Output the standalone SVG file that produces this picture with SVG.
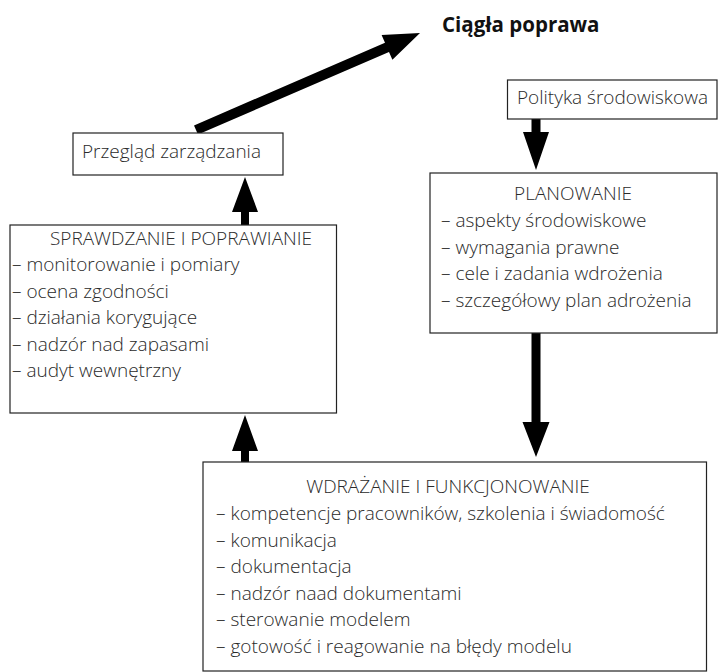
<svg xmlns="http://www.w3.org/2000/svg" width="724" height="672" viewBox="0 0 724 672">
  <style>
    .box { fill: #fff; stroke: #222; stroke-width: 1.2; }
    .t { font-family: "Open Sans", "Liberation Sans", sans-serif; font-weight: 300; font-size: 19px; fill: #2a2a2a; }
    .mid { text-anchor: middle; }
    .title { font-family: "Open Sans", "Liberation Sans", sans-serif; font-weight: 700; font-size: 20.5px; fill: #111; }
    .arrow { fill: #000; stroke: none; }
  </style>
  <rect width="724" height="672" fill="#fff"/>

  <g id="connectors">
    <!-- Przegląd zarządzania -> Ciągła poprawa -->
    <polygon class="arrow" points="194,125.4 385,42.7 381.6,34.9 420,33 392.4,59.7 389,51.9 198,134.6"/>
    <!-- Polityka -> Planowanie -->
    <polygon class="arrow" points="531.5,119 540.5,119 540.5,132 549,132 536,170 523,132 531.5,132"/>
    <!-- Planowanie -> Wdrażanie -->
    <polygon class="arrow" points="531.5,333 540.5,333 540.5,422 549.5,422 536,457 522.5,422 531.5,422"/>
    <!-- Sprawdzanie -> Przegląd -->
    <polygon class="arrow" points="241,225 249,225 249,212 258,212 245,177 232,212 241,212"/>
    <!-- Wdrażanie -> Sprawdzanie -->
    <polygon class="arrow" points="241,462 249,462 249,451 258,451 245,415 232,451 241,451"/>
  </g>

  <g id="ciagla-poprawa">
    <text class="title" x="442" y="32">Ciągła poprawa</text>
  </g>

  <g id="przeglad">
    <rect class="box" x="73" y="133" width="210" height="42"/>
    <text class="t" x="82" y="158" font-size="18.5">Przegląd zarządzania</text>
  </g>

  <g id="polityka">
    <rect class="box" x="507.5" y="80" width="209.5" height="39"/>
    <text class="t" x="517" y="104">Polityka środowiskowa</text>
  </g>

  <g id="planowanie">
    <rect class="box" x="430" y="173" width="287" height="160"/>
    <text class="t mid" x="573" y="200">PLANOWANIE</text>
    <text class="t" x="441" y="227">– aspekty środowiskowe</text>
    <text class="t" x="441" y="253.5">– wymagania prawne</text>
    <text class="t" x="441" y="280">– cele i zadania wdrożenia</text>
    <text class="t" x="441" y="306.5">– szczegółowy plan adrożenia</text>
  </g>

  <g id="sprawdzanie">
    <rect class="box" x="10" y="225" width="326.5" height="188"/>
    <text class="t mid" x="181" y="245">SPRAWDZANIE I POPRAWIANIE</text>
    <text class="t" x="12" y="271">– monitorowanie i pomiary</text>
    <text class="t" x="12" y="297.5">– ocena zgodności</text>
    <text class="t" x="12" y="324">– działania korygujące</text>
    <text class="t" x="12" y="350.5">– nadzór nad zapasami</text>
    <text class="t" x="12" y="377">– audyt wewnętrzny</text>
  </g>

  <g id="wdrazanie">
    <rect class="box" x="203" y="462" width="503.5" height="209"/>
    <text class="t mid" x="448" y="493">WDRAŻANIE I FUNKCJONOWANIE</text>
    <text class="t" x="216" y="520">– kompetencje pracowników, szkolenia i świadomość</text>
    <text class="t" x="216" y="546.5">– komunikacja</text>
    <text class="t" x="216" y="573">– dokumentacja</text>
    <text class="t" x="216" y="599.5">– nadzór naad dokumentami</text>
    <text class="t" x="216" y="626">– sterowanie modelem</text>
    <text class="t" x="216" y="652.5">– gotowość i reagowanie na błędy modelu</text>
  </g>
</svg>
